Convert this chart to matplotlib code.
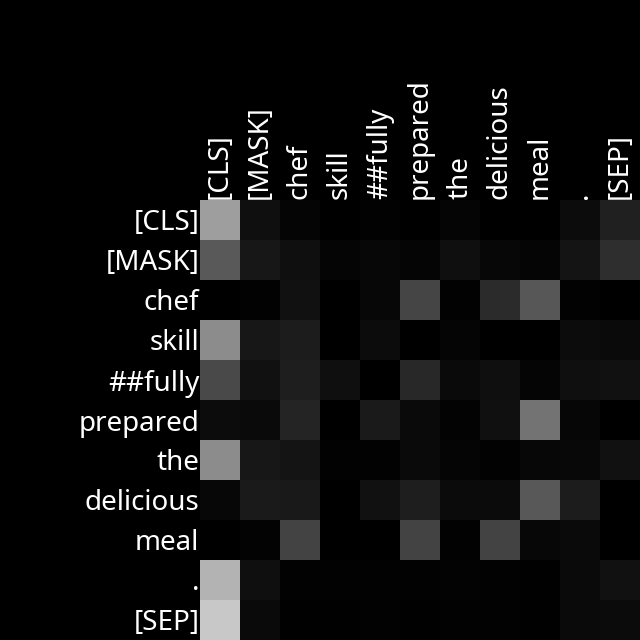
import matplotlib
matplotlib.use("Agg")
import matplotlib.pyplot as plt
import numpy as np

tokens = ["[CLS]", "[MASK]", "chef", "skill", "##fully", "prepared",
          "the", "delicious", "meal", ".", "[SEP]"]

row_cls = [0.62, 0.06, 0.02, 0.00, 0.01, 0.00, 0.02, 0.00, 0.00, 0.05, 0.13]
row_mask = [0.35, 0.09, 0.06, 0.02, 0.03, 0.02, 0.06, 0.03, 0.02, 0.08, 0.18]
row_chef = [0.00, 0.01, 0.07, 0.00, 0.03, 0.27, 0.01, 0.17, 0.34, 0.01, 0.00]
row_skill = [0.55, 0.09, 0.11, 0.00, 0.05, 0.00, 0.02, 0.00, 0.00, 0.05, 0.04]
row_fully = [0.29, 0.07, 0.12, 0.06, 0.00, 0.16, 0.04, 0.06, 0.02, 0.06, 0.07]
row_prepared = [0.05, 0.04, 0.145, 0.00, 0.105, 0.04, 0.015, 0.065, 0.45, 0.025, 0.00]
row_the = [0.55, 0.09, 0.08, 0.01, 0.01, 0.04, 0.02, 0.01, 0.03, 0.035, 0.07]
row_delicious = [0.03, 0.105, 0.10, 0.00, 0.07, 0.12, 0.045, 0.045, 0.345, 0.11, 0.00]
row_meal = [0.00, 0.015, 0.265, 0.00, 0.00, 0.265, 0.01, 0.265, 0.03, 0.04, 0.00]
row_period = [0.705, 0.06, 0.01, 0.01, 0.01, 0.01, 0.015, 0.01, 0.005, 0.04, 0.07]
row_sep = [0.785, 0.04, 0.005, 0.005, 0.01, 0.005, 0.01, 0.01, 0.005, 0.04, 0.045]

attn = np.array([row_cls, row_mask, row_chef, row_skill, row_fully, row_prepared,
                 row_the, row_delicious, row_meal, row_period, row_sep])

plt.rcParams['font.family'] = ['Noto Sans', 'DejaVu Sans']

fig = plt.figure(figsize=(6.4, 6.4), dpi=100, facecolor='black')
ax = fig.add_axes([200/640, 0, 440/640, 440/640])
ax.set_facecolor('black')
ax.imshow(attn, cmap='gray', vmin=0, vmax=1, aspect='auto', interpolation='nearest')

ax.set_xticks(np.arange(len(tokens)))
ax.set_yticks(np.arange(len(tokens)))
ax.set_xticklabels(tokens, rotation=90, fontsize=20, color='white')
ax.set_yticklabels(tokens, fontsize=20, color='white')
ax.xaxis.tick_top()
ax.tick_params(length=0, pad=0.5)
for s in ax.spines.values():
    s.set_visible(False)

fig.savefig("out.png", dpi=100, facecolor='black')
